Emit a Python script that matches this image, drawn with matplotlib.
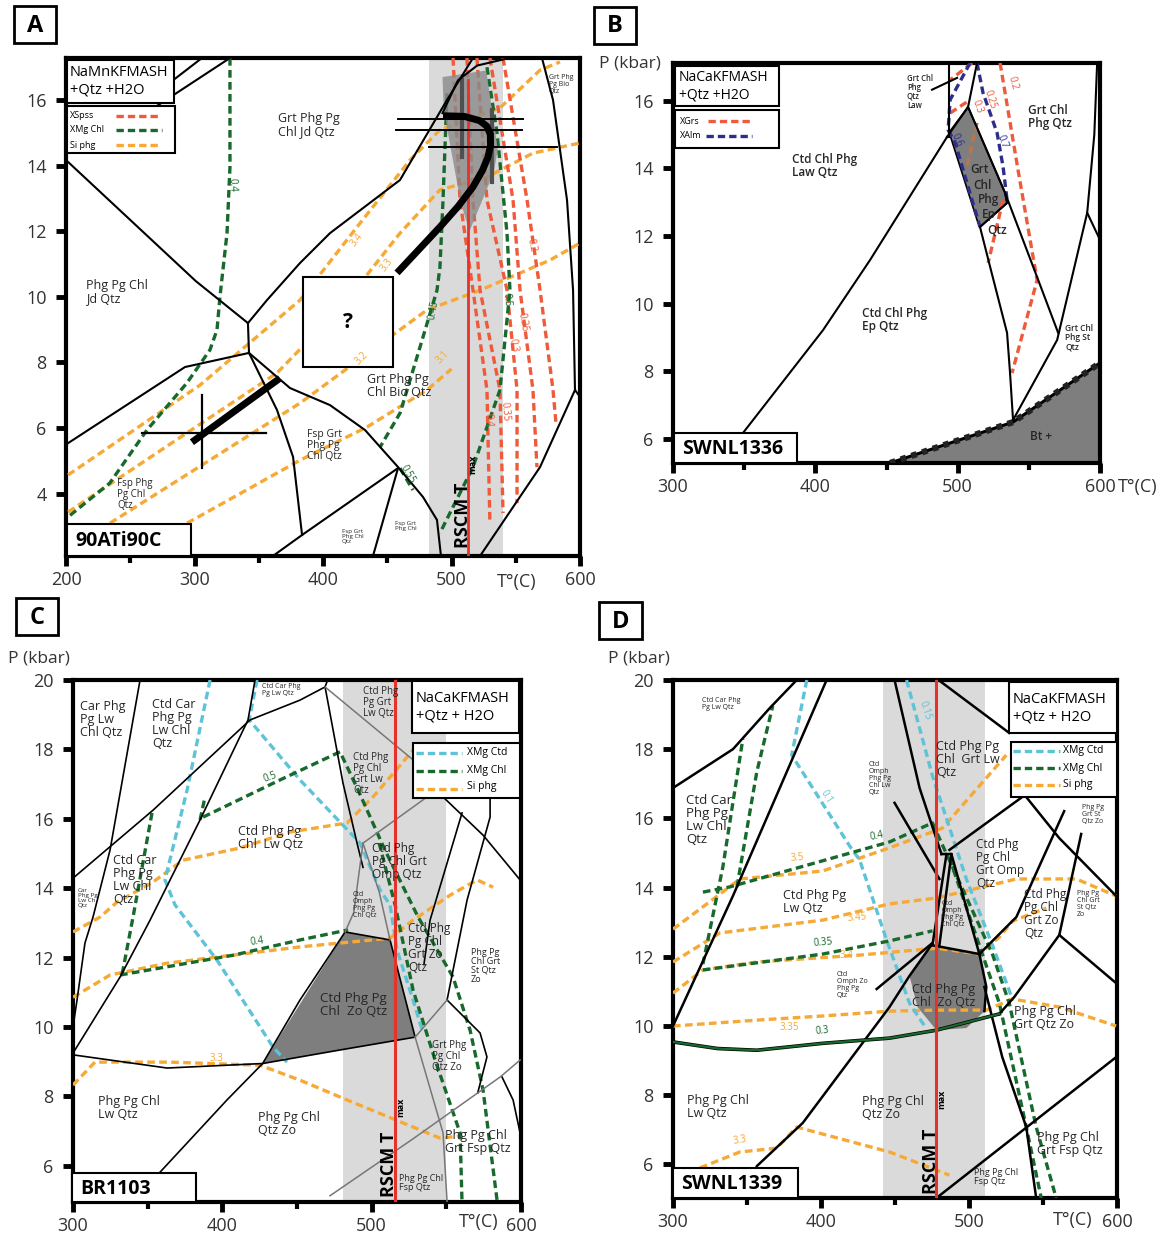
import matplotlib
matplotlib.use('Agg')
import matplotlib.pyplot as plt
from matplotlib.patches import Rectangle, Polygon
from matplotlib.lines import Line2D
from matplotlib.ticker import MultipleLocator, NullLocator

W, H = 1164, 1238
plt.rcParams['font.family'] = ['Open Sans', 'DejaVu Sans']

GREEN = '#17692c'
ORANGE = '#f6a935'
REDD = '#ef5a3a'
LBLUE = '#5ec3d6'
NAVY = '#2d2e8c'
RSCM = '#e5322a'
BAND = '#dadada'
DARK = '#7e7e7e'
GRAYL = '#777777'

# ---------------- panel A  (T degC, P kbar) ----------------
A_b1 = [(200, 14.17), (301, 10.48), (341.6, 9.2)]
A_b2 = [(341.6, 9.2), (342.4, 8.29)]
A_b3 = [(342.4, 8.29), (292.6, 7.86), (201.6, 5.54)]
A_b4 = [(342.4, 8.29), (364.2, 6.55), (376.7, 5.12), (383.7, 2.74)]
A_b5 = [(361, 2.1), (383.7, 2.74), (458.4, 4.78)]
A_b6 = [(342.4, 8.29), (374.3, 7.22), (405.4, 6.7), (432.7, 5.94), (458.4, 4.81),
        (477.8, 3.9), (488.7, 3.2), (491.8, 2.1)]
A_b7 = [(458.4, 4.78), (438.9, 2.1)]
A_b8 = [(341.6, 9.2), (356.4, 9.9), (382.1, 11.03), (405.4, 11.94), (459.9, 13.56),
        (496.5, 16.0), (516.7, 17.28)]
A_b9 = [(493, 15.6), (505, 16.6), (520, 17.05), (545, 17.28)]
A_b10 = [(570.4, 17.28), (579, 16), (589.9, 12.95), (594.6, 10.2), (596.1, 7.16), (600, 6.95)]
A_b11 = [(596.1, 7.16), (568.9, 4.81), (522.2, 2.1)]
A_b12 = [(270, 15.8), (327.6, 17.28)]
A_b13 = [(270, 16.2), (305.8, 17.28)]
A_black = [A_b1, A_b2, A_b3, A_b4, A_b5, A_b6, A_b7, A_b8, A_b9, A_b10, A_b11, A_b12, A_b13]

A_xmg = {'0.4': [(327.6, 17.28), (327.6, 13.96), (325.3, 11.94), (319.8, 10.0), (317.5, 8.99),
                 (312, 8.38), (294, 7.37), (263, 5.94), (234, 4.32), (201.6, 3.29)],
         '0.5': [(527.6, 17.0), (535.4, 15.0), (543.2, 11.94), (545.5, 10.2), (537.7, 7.16),
                 (516.7, 4.81), (491, 2.8)],
         '0.45': [(496.5, 16.2), (493.4, 12.95), (491, 10.9), (488.7, 10.2), (475.5, 8.47),
                  (460, 6.46), (444.4, 5.42)],
         '0.55': [(459.9, 4.78), (470, 4.11)]}
A_siphg = {'3.4': [(201.6, 4.57), (304.3, 7.31), (382.1, 9.9), (426.5, 12.13), (467.7, 14.17),
                   (491, 15.09), (537.7, 15.76), (568.9, 16.91), (584.4, 17.16)],
           '3.3': [(201.6, 3.44), (364.2, 7.68), (415.6, 9.75), (459.9, 11.94), (491, 13.26),
                   (527.6, 13.65), (563.4, 14.38), (600, 14.69)],
           '3.2': [(234.2, 3.1), (382.1, 6.76), (480.9, 9.6), (522.2, 10.2), (576.7, 11.12),
                   (600, 11.64)],
           '3.1': [(294.2, 3.1), (382.1, 5.02), (434.2, 6.03), (480.9, 7.16), (500, 7.8)]}
A_xspss = {'0.4': [(501.2, 17.28), (506.6, 12.95), (516.7, 10.21), (527.6, 7.16), (529.9, 3.1)],
           '0.35': [(512, 17.28), (516.7, 12.95), (522.2, 10.21), (537.7, 7.16), (540.1, 3.41)],
           '0.3': [(519.8, 17.28), (527.6, 12.95), (543.2, 10.21), (551, 7.16), (551, 3.71)],
           '0.25': [(529.9, 17.28), (547.9, 12.95), (553.3, 10.21), (563.4, 7.16), (566.5, 4.81)],
           '0.2': [(540.1, 17.28), (558.8, 12.95), (568.9, 10.21), (579, 7.16), (581.3, 6.15)]}
A_iso_labels = [('0.4', 329, 13.4, GREEN, -88), ('0.45', 486, 9.6, GREEN, 80),
                ('0.5', 543, 9.9, GREEN, -85), ('0.55', 466, 4.6, GREEN, -60),
                ('3.4', 426.5, 11.73, ORANGE, 52), ('3.3', 449.8, 10.97, ORANGE, 52),
                ('3.2', 430.4, 8.13, ORANGE, 45), ('3.1', 493.4, 8.16, ORANGE, 45),
                ('0.2', 561.9, 11.58, REDD, -78), ('0.25', 555.6, 9.23, REDD, -80),
                ('0.3', 547.9, 8.53, REDD, -80), ('0.35', 541.6, 6.49, REDD, -85),
                ('0.4', 528.4, 6.24, REDD, -88)]
A_fields = [('Grt Phg Pg\nChl Jd Qtz', 365, 15.24, 9), ('Phg Pg Chl\nJd Qtz', 215.6, 10.15, 9),
            ('Grt Phg Pg\nChl Bio Qtz', 434.2, 7.28, 9), ('Fsp Grt\nPhg Pg\nChl Qtz', 387.5, 5.48, 7.5),
            ('Fsp Phg\nPg Chl\nQtz', 239.7, 3.96, 7), ('Fsp Grt\nPhg Chl\nQtz', 414.8, 2.68, 4.5),
            ('Fsp Grt\nPhg Chl', 456, 3.0, 4.5), ('Grt Phg\nPg Bio\nQtz', 575.9, 16.46, 5)]
A_band = (482.5, 540)
A_tmax = 512.8
A_peak = [(493, 16.7), (527, 16.9), (536, 14.5), (533, 13.8), (514, 12.0), (507, 12.9), (494, 15.7)]
A_path = [(457.6, 10.73), (476, 11.5), (491, 12.13), (505, 12.75), (516.7, 13.35), (524, 13.85),
          (528.4, 14.26), (530.4, 14.62), (530.2, 14.95), (527.5, 15.2), (522, 15.37),
          (510, 15.5), (493.4, 15.52)]
A_path_lo = [(298, 5.57), (366.5, 7.52)]
A_bars_h = [(458, 556, 15.42), (457, 555, 15.09), (482.5, 582, 14.57)]
A_bars_v = [(508, 14.26, 16.6), (531.5, 13.5, 15.7)]
A_cross = (305.8, 5.85, 259, 356, 4.78, 7.0)
A_qbox = (384.4, 7.86, 454.5, 10.6)

# ---------------- panel B ----------------
B_b1 = [(332.7, 5.29), (349.2, 6.18), (405.4, 9.22), (438.4, 11.29), (492.5, 14.93)]
B_b2 = [(494, 14.93), (494, 17.12)]
B_b3 = [(492.5, 14.93), (507.3, 15.82), (513.6, 17.12)]
B_b4 = [(507.3, 15.82), (533.3, 13.28), (555.8, 10.79), (570.6, 9.14)]
B_b5 = [(515.7, 12.27), (522.8, 11.09), (534.7, 9.14), (536.8, 7.95), (538.9, 6.56)]
B_b6 = [(538.9, 6.56), (569.9, 8.93), (591, 12.69), (596, 15), (598, 17.12)]
B_b7 = [(591, 12.69), (600, 11.89)]
B_b8 = [(533.3, 13.28), (534.7, 12.98), (515.7, 12.27)]
B_b9 = [(482, 16.33), (499.6, 16.68)]
B_black = [B_b1, B_b2, B_b3, B_b4, B_b5, B_b6, B_b7, B_b8, B_b9]
B_peak = [(494, 15.07), (507.3, 15.82), (533.3, 13.28), (534.7, 12.98), (515.7, 12.27), (513.6, 12.48)]
B_bt = [(452.5, 5.29), (538.9, 6.5), (600, 8.25)]
B_xgrs = [[(529.8, 17.12), (542.4, 13.96), (555.8, 10.7), (538.2, 7.95)],
          [(510.1, 17.12), (494.7, 16.62)],
          [(494.7, 15.64), (508.7, 16.03)],
          [(531.9, 13.07), (521.4, 11.21)]]
B_xgrs_in = [(513.6, 15.35), (506.6, 14.05)]
B_xalm = [[(508.7, 17.12), (494.7, 16.03), (493.3, 15.14), (498.2, 14.76), (515.7, 12.27)],
          [(513.6, 17.12), (517.8, 16.24), (527.7, 15.05), (531.9, 14.05), (534.7, 13.07)]]
B_iso_labels = [('0.2', 538.9, 16.53, REDD, -75), ('0.3', 513.6, 15.82, REDD, -70),
                ('0.25', 522.8, 16.03, REDD, -72), ('0.7', 531.2, 14.79, NAVY, -70),
                ('0.6', 499.6, 14.85, NAVY, -65)]
B_fields = [('Ctd Chl Phg\nLaw Qtz', 383.6, 14.08, 8.5), ('Ctd Chl Phg\nEp Qtz', 432.8, 9.52, 8.5),
            ('Grt Chl\nPhg Qtz', 549.5, 15.53, 8.5), ('Grt', 508.7, 13.96, 8.5),
            ('Chl', 510.8, 13.51, 8.5), ('Phg', 514.3, 13.07, 8.5), ('Ep', 517.1, 12.63, 8.5),
            ('Qtz', 520.7, 12.18, 8.5), ('Grt Chl\nPhg\nQtz\nLaw', 464.4, 16.27, 5.5),
            ('Grt Chl\nPhg St\nQtz', 575.5, 8.99, 6), ('Bt +', 550.9, 6.06, 8.5)]

# ---------------- panel C ----------------
C_b1 = [(300, 14.29), (353.6, 16.25), (418.6, 18.85), (452, 19.42), (468.8, 19.8), (470.5, 20)]
C_b2 = [(344.9, 20), (324.8, 15.1), (313.4, 13.17), (308, 12.42), (302.7, 10.78), (300, 10)]
C_b3 = [(300, 9.25), (331.5, 11.44), (351.6, 13.08), (358.3, 13.66), (385.1, 15.97),
        (417.2, 18.85), (421.9, 20)]
C_b4 = [(300, 9.2), (363, 8.82), (427, 8.95), (478.8, 9.34), (529.1, 9.71)]
C_b5 = [(345, 5.0), (358.3, 5.82), (403.1, 7.9), (427, 8.95), (452, 10.78), (482.2, 12.74)]
C_b6 = [(468.8, 19.8), (480.8, 17.03), (490.2, 15.3), (494.2, 14.6)]
C_b7 = [(482.2, 12.74), (512.3, 12.51), (529.1, 9.71)]
C_b8 = [(547.8, 16.63), (574.6, 15.53), (599.4, 14.24)]
C_b9 = [(560.5, 16.17), (539.1, 13.08), (535, 11.8)]
C_b10 = [(579.3, 16.6), (579.3, 16.05), (563.9, 13.66), (550.5, 10.78)]
C_b11 = [(550.5, 10.78), (572.6, 9.83), (577.2, 9.14), (571, 8.1)]
C_b12 = [(587.3, 8.56), (594.7, 7.9), (599.4, 6.95)]
C_black = [C_b1, C_b2, C_b3, C_b4, C_b5, C_b6, C_b7, C_b8, C_b9, C_b10, C_b11, C_b12]
C_g1 = [(468.8, 19.8), (527.7, 17.7), (561.2, 16.6)]
C_g2 = [(494.2, 15.3), (537.1, 16.63)]
C_g3 = [(472.1, 5.14), (527.7, 6.78), (586, 8.56), (599.4, 9.05)]
C_g4 = [(529.1, 9.71), (547.8, 6.95), (550.5, 4.96)]
C_g5 = [(529.1, 9.71), (550.5, 10.78)]
C_g6 = [(494.2, 15.3), (488, 13.3), (482.2, 12.74)]
C_g7 = [(494.2, 15.3), (505, 13.9), (512.3, 12.51)]
C_gray = [C_g1, C_g2, C_g3, C_g4, C_g5, C_g6, C_g7]
C_peak = [(427, 8.95), (482.2, 12.74), (512.3, 12.51), (529.1, 9.71), (478.8, 9.34)]
C_xmgchl = [[(387.1, 16.05), (438.6, 17.12), (478.8, 17.93), (490.9, 16.83), (508.9, 15.1),
             (531.1, 13.17), (554.5, 11.44), (565.9, 9.91), (574.6, 8.18), (584, 5.0)],
            [(385.1, 15.97), (388.4, 16.63)],
            [(331.5, 11.5), (407.2, 12.07), (452, 12.51), (484.2, 12.8)],
            [(352.9, 16.17), (340.2, 13.17), (332.8, 11.5)],
            [(505, 15.3), (515.7, 13.52), (527.7, 11.07), (542.5, 9.05), (559.2, 6.95), (560.5, 4.96)]]
C_xmgctd = [[(391.8, 20), (376.4, 16.83), (361.6, 14.24), (368.3, 13.52), (396.4, 11.93),
             (434, 9.42), (443.3, 8.99)],
            [(423.2, 20), (418, 18.85), (452, 17.12), (492.2, 15.3), (505.6, 13.95),
             (512.3, 13.52), (517, 12.22), (527.7, 10.78), (534.4, 9.83)]]
C_siphg = [[(300, 12.74), (318.1, 13.17), (329.5, 13.6), (353.6, 14.18), (373.7, 14.81),
            (411.9, 15.16), (445.3, 15.62), (483.5, 15.88), (500.9, 16.63), (512.3, 17.2),
            (527.7, 17.98)],
           [(300, 10.86), (324.8, 11.5), (363, 11.84), (452, 12.31), (512.3, 12.56),
            (527.7, 13.08), (552.5, 13.8), (570.6, 14.24), (581.3, 14.03)],
           [(300, 8.33), (314.7, 8.99), (365, 8.99), (425.3, 8.9), (452, 8.47), (483.5, 7.9),
            (527.7, 7.12), (545.8, 6.8), (559.2, 6.86)]]
C_iso_labels = [('0.5', 432, 17.2, GREEN, 20), ('0.4', 423.2, 12.45, GREEN, 8),
                ('3.3', 396, 9.1, ORANGE, 0)]
C_fields = [('Car Phg\nPg Lw\nChl Qtz', 304.7, 18.85, 9), ('Ctd Car\nPhg Pg\nLw Chl\nQtz', 352.9, 18.73, 9),
            ('Ctd Car Phg\nPg Lw Qtz', 426.6, 19.71, 5), ('Ctd Phg\nPg Grt\nLw Qtz', 494.2, 19.34, 7),
            ('Ctd Phg\nPg Chl\nGrt Lw\nQtz', 487.5, 17.29, 7), ('Ctd Phg Pg\nChl  Lw Qtz', 410.5, 15.45, 9),
            ('Ctd Car\nPhg Pg\nLw Chl\nQtz', 326.8, 14.24, 9), ('Car\nPhg Pg\nLw Ch\nQtz', 303.3, 13.72, 4.5),
            ('Ctd Phg\nPg Chl Grt\nOmp Qtz', 500.3, 14.76, 8.5), ('Ctd\nOmph\nPhg Pg\nChl Qtz', 487.5, 13.52, 5),
            ('Ctd Phg\nPg Chl\nGrt Zo\nQtz', 524.4, 12.28, 8.5), ('Phg Pg\nChl Grt\nSt Qtz\nZo', 566.6, 11.76, 6.5),
            ('Ctd Phg Pg\nChl  Zo Qtz', 465.4, 10.63, 9.5), ('Grt Phg\nPg Chl\nQtz Zo', 540.5, 9.14, 7),
            ('Phg Pg Chl\nLw Qtz', 316.7, 7.67, 9), ('Phg Pg Chl\nQtz Zo', 423.9, 7.2, 9),
            ('Phg Pg Chl\nGrt Fsp Qtz', 549.2, 6.69, 9), ('Phg Pg Chl\nFsp Qtz', 518.5, 5.5, 6.5)]
C_band = (481, 550)
C_tmax = 515.7

# ---------------- panel D ----------------
D_b1 = [(300, 16.88), (340.5, 18.0), (365.4, 19.19), (383.6, 20)]
D_b2 = [(300, 10.0), (340.5, 13.76), (403.8, 20)]
D_b3 = [(350, 5.03), (356.6, 5.95), (387.7, 7.2), (446.3, 10.55), (459.8, 11.45), (474.6, 12.34)]
D_b4 = [(449.7, 20), (466.6, 16.88), (481.4, 14.97)]
D_b5 = [(479.4, 20), (527.2, 18.47)]
D_b6 = [(484.8, 14.97), (475.3, 12.34)]
D_b7 = [(488.1, 14.97), (480, 12.34)]
D_b8 = [(474.6, 12.34), (507, 12.08)]
D_b9 = [(481.4, 14.97), (488.1, 14.97), (507, 12.08)]
D_b10 = [(486.8, 15.09), (536, 16.62)]
D_b11 = [(449.7, 16.45), (480, 14.25)]
D_b12 = [(437.6, 11.07), (475.3, 12.4)]
D_b13 = [(507, 12.08), (532, 13.15), (564.3, 16.21)]
D_b14 = [(536, 16.76), (561, 15.43), (599.4, 13.76)]
D_b15 = [(510.4, 11.13), (522.5, 9.1), (538.7, 7.08), (545.4, 5.03)]
D_b16 = [(478, 5.03), (599.4, 9.1)]
D_b17 = [(507, 12.08), (511.7, 11.13), (510.4, 10.43)]
D_b18 = [(575.8, 15.55), (561, 12.63), (599.4, 11.24)]
D_b19 = [(520.5, 10.35), (530.6, 10.84), (561, 12.63)]
D_black = [D_b1, D_b2, D_b3, D_b4, D_b5, D_b6, D_b7, D_b8, D_b9, D_b10, D_b11, D_b12,
           D_b13, D_b14, D_b15, D_b16, D_b17, D_b18, D_b19]
D_chl03 = [(300, 9.54), (330, 9.35), (356.6, 9.3), (401.1, 9.5), (446.3, 9.65), (478, 9.88), (520.5, 10.35)]
D_peak = [(474.6, 12.34), (507, 12.08), (511.7, 11.13), (510.4, 10.43), (498.2, 9.94),
          (478, 9.88), (465.2, 10.55), (459.8, 11.45)]
D_xmgchl = [[(320.2, 13.87), (338.4, 14.02), (446.3, 15.32), (475.3, 15.87), (484.8, 14.97),
             (515.8, 12.08), (527.2, 10.66), (545.4, 7.08), (558.9, 5.03)],
            [(486.8, 14.85), (509.0, 12.08), (520.5, 10.66), (538.7, 7.08), (548.8, 5.03)],
            [(320.2, 11.62), (401.1, 12.08), (446.3, 12.46), (475.3, 12.75)],
            [(320.2, 11.79), (333.7, 14.6), (347.2, 18.3)],
            [(343.2, 14.02), (356.6, 17.34), (367.4, 19.25)]]
D_xmgctd = [[(390.4, 20), (380.2, 17.83), (419.4, 15.2), (426.1, 14.8), (444.3, 12.49),
             (459.8, 10.66), (470, 10.0)],
            [(457.8, 20), (475.3, 17.23), (498.2, 14.25), (515.8, 12.34), (529.3, 10.78)]]
D_siphg = [[(300, 12.8), (322.9, 13.53), (345.2, 14.25), (401.1, 14.48), (446.3, 15.15),
            (482.1, 15.72), (525.2, 17.83)],
           [(300, 11.85), (331.7, 12.69), (401.1, 13.06), (446.3, 13.53), (478, 13.7),
            (532, 14.25), (572.5, 14.25), (599.4, 13.76)],
           [(300, 10.95), (320.2, 11.62), (356.6, 11.85), (426.1, 12.05), (478, 12.25),
            (507, 12.08), (520.5, 12.57), (529.3, 13.03), (552.2, 13.41)],
           [(300, 10.0), (356.6, 10.17), (401.1, 10.29), (446.3, 10.43), (478, 10.46),
            (511.7, 10.46), (529.3, 10.78), (561, 10.55), (599.4, 10.0)],
           [(318.2, 5.9), (345.2, 6.36), (370.1, 6.47), (383.6, 7.08), (446.3, 6.36), (486.8, 5.69)]]
D_iso_labels = [('3.5', 383.6, 14.86, ORANGE, 5), ('3.45', 424.1, 13.12, ORANGE, 5),
                ('3.4', 417.3, 12.05, ORANGE, 0), ('3.35', 378.9, 9.95, ORANGE, 0),
                ('3.3', 345.2, 6.7, ORANGE, 10), ('0.4', 437.6, 15.5, GREEN, 12),
                ('0.35', 401.1, 12.4, GREEN, 5), ('0.3', 401.1, 9.85, GREEN, 5),
                ('0.1', 403.8, 16.62, LBLUE, -60), ('0.15', 469.9, 19.13, LBLUE, -72)]
D_fields = [('Ctd Car Phg\nPg Lw Qtz', 319.6, 19.31, 5), ('Ctd Car\nPhg Pg\nLw Chl\nQtz', 308.8, 15.95, 9.5),
            ('Ctd Phg Pg\nLw Qtz', 374.2, 13.58, 9), ('Ctd\nOmph Zo\nPhg Pg\nQtz', 410.6, 11.18, 5),
            ('Ctd\nOmph\nPhg Pg\nChl Lw\nQtz', 432.2, 17.14, 5), ('Ctd Phg Pg\nChl  Grt Lw\nQtz', 478, 17.69, 9),
            ('Ctd Phg\nPg Chl\nGrt Omp\nQtz', 505, 14.68, 8.5), ('Ctd Phg\nPg Chl\nGrt Zo\nQtz', 537.4, 13.24, 8.5),
            ('Phg Pg\nGrt St\nQtz Zo', 576.5, 16.1, 5), ('Phg Pg\nChl Grt\nSt Qtz\nZo', 573.1, 13.53, 5),
            ('Ctd\nOmph\nPhg Pg\nChl Qtz', 481.4, 13.24, 5), ('Ctd Phg Pg\nChl  Zo Qtz', 461.2, 10.87, 9),
            ('Phg Pg Chl\nGrt Qtz Zo', 530.6, 10.23, 9), ('Phg Pg Chl\nLw Qtz', 309.4, 7.66, 9),
            ('Phg Pg Chl\nQtz Zo', 427.4, 7.63, 9), ('Phg Pg Chl\nGrt Fsp Qtz', 546.1, 6.59, 9),
            ('Phg Pg Chl\nFsp Qtz', 503.6, 5.64, 6.5)]
D_band = (441.6, 511)
D_tmax = 478


fig = plt.figure(figsize=(W / 100, H / 100), dpi=100)


def make_axes(x0, y0, x1, y1, xlim, ylim, yticks):
    ax = fig.add_axes([x0 / W, 1 - y1 / H, (x1 - x0) / W, (y1 - y0) / H])
    ax.set_xlim(*xlim)
    ax.set_ylim(*ylim)
    for s in ax.spines.values():
        s.set_linewidth(3)
    ax.xaxis.set_major_locator(MultipleLocator(100))
    ax.xaxis.set_minor_locator(MultipleLocator(50))
    ax.yaxis.set_minor_locator(NullLocator())
    ax.set_yticks(yticks)
    ax.tick_params(which='major', direction='out', length=7, width=3.5, labelsize=13,
                   pad=7, labelcolor='#333333')
    ax.tick_params(which='minor', direction='out', length=5, width=3)
    ax.tick_params(axis='x', which='major', pad=4)
    return ax


def line(ax, pts, **kw):
    t, p = zip(*pts)
    ax.plot(t, p, **kw)


def dashed(ax, pts, color, lw=2.4, z=3):
    line(ax, pts, color=color, lw=lw, dashes=(2.3, 1.3), zorder=z)


def fields(ax, items, weight='normal'):
    for s, t, p, fs in items:
        ax.text(t, p, s, fontsize=fs, ha='left', va='center', linespacing=1.0,
                color='#262626', zorder=7, fontweight=weight)


def iso(ax, items):
    for s, t, p, c, r in items:
        ax.text(t, p, s, fontsize=7, color=c, rotation=r, ha='center', va='center', zorder=7)


def rscm(ax, t, p0, tmax_p):
    ax.text(t - 4, p0, 'RSCM T', rotation=90, fontsize=13, fontweight='bold',
            ha='center', va='bottom', zorder=7)
    ax.text(t + 3.5, tmax_p, 'max', rotation=90, fontsize=6.5, fontweight='bold',
            ha='center', va='bottom', zorder=7)


def fbox(x0, y0, x1, y1, lw=1.5):
    fig.add_artist(Rectangle((x0 / W, 1 - y1 / H), (x1 - x0) / W, (y1 - y0) / H,
                             transform=fig.transFigure, fc='white', ec='black', lw=lw, zorder=5))


def ftext(x, y, s, **kw):
    fig.text(x / W, 1 - y / H, s, zorder=6, **kw)


def fdash(x0, x1, y, color):
    fig.add_artist(Line2D([x0 / W, x1 / W], [1 - y / H, 1 - y / H], transform=fig.transFigure,
                          color=color, lw=2.4, dashes=(2.2, 1.2), zorder=6))


def letter(x0, y0, x1, y1, s):
    fbox(x0, y0, x1, y1, lw=2)
    ftext((x0 + x1) / 2, (y0 + y1) / 2 + 1, s, fontsize=17, fontweight='bold', ha='center', va='center')


def sample(x0, y0, x1, y1, s):
    fbox(x0, y0, x1, y1, lw=1.5)
    ftext(x0 + 8, (y0 + y1) / 2 + 1, s, fontsize=14, fontweight='bold', ha='left', va='center')


# ===== A =====
ax = make_axes(66, 58, 580, 556, (200, 600), (2.1, 17.28), [4, 6, 8, 10, 12, 14, 16])
ax.axvspan(*A_band, color=BAND, zorder=0, lw=0)
for pts in A_black:
    line(ax, pts, color='black', lw=1.5, zorder=4)
for k, pts in A_siphg.items():
    dashed(ax, pts, ORANGE)
for k, pts in A_xspss.items():
    dashed(ax, pts, REDD)
for k, pts in A_xmg.items():
    dashed(ax, pts, GREEN)
ax.add_patch(Polygon(A_peak, closed=True, fc='#8a8a8a', ec='none', alpha=0.8, zorder=3.5))
ax.plot([A_tmax, A_tmax], [2.1, 16.6], color=RSCM, lw=2, zorder=3.6)
for t, p0, p1 in A_bars_v:
    ax.plot([t, t], [p0, p1], color='#505050', lw=3, zorder=3.7)
for t0, t1, p in A_bars_h:
    ax.plot([t0, t1], [p, p], color='black', lw=1.4, zorder=5)
line(ax, A_path, color='black', lw=5, zorder=6, solid_capstyle='butt', solid_joinstyle='round')
line(ax, A_path_lo, color='black', lw=5, zorder=6, solid_capstyle='butt')
ct, cp, ch0, ch1, cv0, cv1 = A_cross
ax.plot([ch0, ch1], [cp, cp], color='black', lw=1.6, zorder=6)
ax.plot([ct, ct], [cv0, cv1], color='black', lw=1.6, zorder=6)
qx0, qy0, qx1, qy1 = A_qbox
ax.add_patch(Rectangle((qx0, qy0), qx1 - qx0, qy1 - qy0, fc='white', ec='black', lw=1.5, zorder=5))
ax.text((qx0 + qx1) / 2, (qy0 + qy1) / 2, '?', fontsize=15, fontweight='bold', ha='center',
        va='center', zorder=7)
fields(ax, A_fields)
iso(ax, A_iso_labels)
rscm(ax, A_tmax, 2.35, 4.6)

# ===== B =====
ax = make_axes(673, 63, 1100, 463, (300, 600), (5.29, 17.12), [6, 8, 10, 12, 14, 16])
ax.add_patch(Polygon(B_peak, closed=True, fc=DARK, ec='black', lw=1.2, zorder=1))
ax.add_patch(Polygon(B_bt + [(600, 5.29)], closed=True, fc=DARK, ec='none', zorder=1))
for pts in B_black:
    line(ax, pts, color='black', lw=1.5, zorder=4)
line(ax, B_bt, color='black', lw=2.2, zorder=5)
line(ax, B_bt, color='#222222', lw=4.5, dashes=(0.9, 0.9), zorder=5)
for pts in B_xgrs:
    dashed(ax, pts, REDD)
dashed(ax, B_xgrs_in, '#b8764e')
for pts in B_xalm:
    dashed(ax, pts, NAVY)
fields(ax, B_fields, weight='semibold')
iso(ax, B_iso_labels)

# ===== C =====
ax = make_axes(73, 680, 521, 1202, (300, 600), (4.96, 20), [6, 8, 10, 12, 14, 16, 18, 20])
ax.axvspan(*C_band, color=BAND, zorder=0, lw=0)
ax.add_patch(Polygon(C_peak, closed=True, fc=DARK, ec='none', zorder=1))
for pts in C_black:
    line(ax, pts, color='black', lw=1.2, zorder=4)
for pts in C_gray:
    line(ax, pts, color=GRAYL, lw=1.1, zorder=4)
for pts in C_siphg:
    dashed(ax, pts, ORANGE)
for pts in C_xmgctd:
    dashed(ax, pts, LBLUE)
for pts in C_xmgchl:
    dashed(ax, pts, GREEN)
ax.axvline(C_tmax, color=RSCM, lw=2.2, zorder=4.5)
fields(ax, C_fields)
iso(ax, C_iso_labels)
rscm(ax, C_tmax, 5.1, 7.4)

# ===== D =====
ax = make_axes(673, 680, 1117, 1198, (300, 600), (5.03, 20), [6, 8, 10, 12, 14, 16, 18, 20])
ax.axvspan(*D_band, color=BAND, zorder=0, lw=0)
ax.add_patch(Polygon(D_peak, closed=True, fc=DARK, ec='none', zorder=1))
for pts in D_black:
    line(ax, pts, color='black', lw=1.8, zorder=4)
line(ax, D_chl03, color='black', lw=2.6, zorder=4)
line(ax, D_chl03, color=GREEN, lw=1.6, zorder=4.1)
for pts in D_siphg:
    dashed(ax, pts, ORANGE)
for pts in D_xmgctd:
    dashed(ax, pts, LBLUE)
for pts in D_xmgchl:
    dashed(ax, pts, GREEN)
ax.axvline(D_tmax, color=RSCM, lw=2.2, zorder=4.5)
fields(ax, D_fields)
iso(ax, D_iso_labels)
rscm(ax, D_tmax, 5.15, 7.6)

# ===== boxes, legends and outer labels =====
letter(14, 6, 56, 43, 'A')
letter(594, 7, 636, 44, 'B')
letter(16, 598, 58, 635, 'C')
letter(599, 602, 642, 639, 'D')

sample(67, 524, 191, 556, '90ATi90C')
sample(674, 433, 797, 463, 'SWNL1336')
sample(72, 1173, 196, 1202, 'BR1103')
sample(673, 1168, 798, 1198, 'SWNL1339')

# A legend
fbox(67, 60, 174, 103)
ftext(70, 81, 'NaMnKFMASH\n+Qtz +H2O', fontsize=10.5, va='center', linespacing=1.2)
fbox(67, 106, 175, 153)
ftext(70, 115, 'XSpss', fontsize=6.5, va='center')
ftext(70, 130, 'XMg Chl', fontsize=6.5, va='center')
ftext(70, 145, 'Si phg', fontsize=6.5, va='center')
fdash(116, 160, 116, REDD)
fdash(116, 162, 130, GREEN)
fdash(116, 160, 145, ORANGE)

# B legend
fbox(675, 66, 779, 106)
ftext(679, 86, 'NaCaKFMASH\n+Qtz +H2O', fontsize=10, va='center', linespacing=1.2)
fbox(675, 110, 779, 148)
ftext(680, 121, 'XGrs', fontsize=6.5, va='center')
ftext(680, 136, 'XAlm', fontsize=6.5, va='center')
fdash(708, 752, 121, REDD)
fdash(706, 752, 136, NAVY)

# C legend
fbox(412, 681, 519, 733)
ftext(416, 707, 'NaCaKFMASH\n+Qtz + H2O', fontsize=10.5, va='center', linespacing=1.2)
fbox(413, 743, 520, 798)
fdash(416, 462, 753, LBLUE)
fdash(416, 462, 771, GREEN)
fdash(416, 462, 789, ORANGE)
ftext(467, 752, 'XMg Ctd', fontsize=7.5, va='center')
ftext(467, 770, 'XMg Chl', fontsize=7.5, va='center')
ftext(467, 787, 'Si phg', fontsize=7.5, va='center')

# D legend
fbox(1009, 682, 1117, 733)
ftext(1013, 708, 'NaCaKFMASH\n+Qtz + H2O', fontsize=10.5, va='center', linespacing=1.2)
fbox(1011, 742, 1117, 797)
fdash(1013, 1060, 751, LBLUE)
fdash(1013, 1060, 768, GREEN)
fdash(1013, 1060, 785, ORANGE)
ftext(1063, 750, 'XMg Ctd', fontsize=7.5, va='center')
ftext(1063, 768, 'XMg Chl', fontsize=7.5, va='center')
ftext(1063, 785, 'Si phg', fontsize=7.5, va='center')

ftext(630, 64, 'P (kbar)', fontsize=12.5, ha='center', va='center', color='#333333')
ftext(39, 659, 'P (kbar)', fontsize=12.5, ha='center', va='center', color='#333333')
ftext(639, 659, 'P (kbar)', fontsize=12.5, ha='center', va='center', color='#333333')
ftext(517, 582, 'T°(C)', fontsize=13, ha='center', va='center', color='#333333')
ftext(1138, 487, 'T°(C)', fontsize=13, ha='center', va='center', color='#333333')
ftext(479, 1222, 'T°(C)', fontsize=13, ha='center', va='center', color='#333333')
ftext(1073, 1220, 'T°(C)', fontsize=13, ha='center', va='center', color='#333333')

fig.savefig('out.png', dpi=100, facecolor='white')
